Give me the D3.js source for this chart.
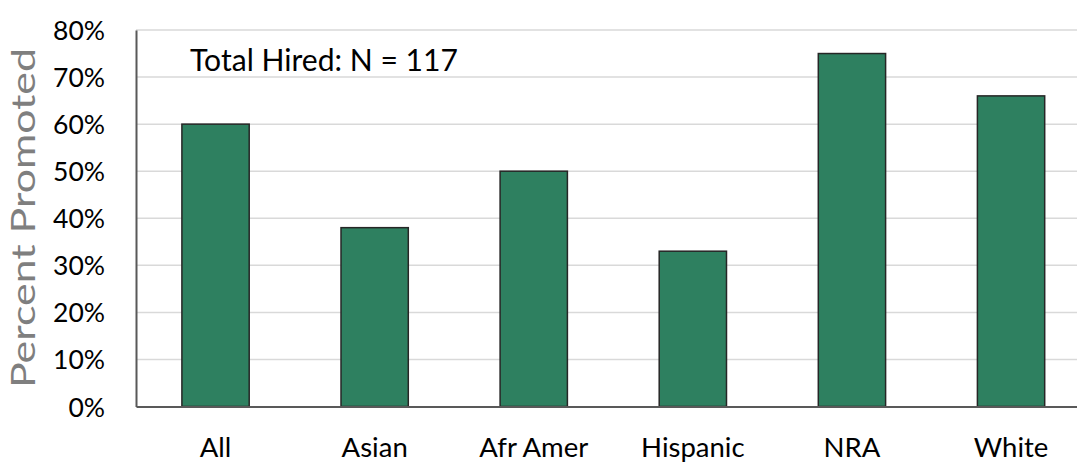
<!DOCTYPE html>
<html><head><meta charset="utf-8">
<script src="https://cdn.jsdelivr.net/npm/d3@7"></script>
<style>html,body{margin:0;padding:0;background:#fff;overflow:hidden}</style>
</head><body>
<svg id="chart" width="1077" height="462"></svg>
<script>
const categories = ["All", "Asian", "Afr Amer", "Hispanic", "NRA", "White"];
const values = [0.60, 0.38, 0.50, 0.33, 0.75, 0.66];
const yTicks = [0, 0.1, 0.2, 0.3, 0.4, 0.5, 0.6, 0.7, 0.8];
const yTickLabels = ["0%", "10%", "20%", "30%", "40%", "50%", "60%", "70%", "80%"];
const annotation = "Total Hired: N = 117";
const yTitle = "Percent Promoted";

const svg = d3.select("#chart");
const FONT = "Lato, 'Open Sans', sans-serif";
const x = d3.scaleBand().domain(categories).range([136, 1090.6]).paddingInner(0.577).paddingOuter(0.2885);
const y = d3.scaleLinear().domain([0, 0.8]).range([406.5, 30]);

// gridlines
svg.append("g").selectAll("line").data(yTicks.filter(d => d > 0)).join("line")
  .attr("x1", 136).attr("x2", 1077)
  .attr("y1", d => y(d)).attr("y2", d => y(d))
  .attr("stroke", "#d9d9d9").attr("stroke-width", 1.5);

// bars
svg.append("g").selectAll("rect").data(values).join("rect")
  .attr("x", (d, i) => x(categories[i]))
  .attr("y", d => y(d))
  .attr("width", x.bandwidth())
  .attr("height", d => y(0) - y(d))
  .attr("fill", "#2e8060")
  .attr("stroke", "#262626").attr("stroke-width", 1.5);

// axes
const yAxis = d3.axisLeft(y).tickValues(yTicks).tickFormat((d, i) => yTickLabels[i]).tickSize(0).tickPadding(31);
const gy = svg.append("g").attr("transform", "translate(136,0)").call(yAxis);
gy.select(".domain").attr("stroke", "#595959").attr("stroke-width", 2);
gy.selectAll("text").attr("font-family", FONT).attr("font-size", 26.5).attr("fill", "#000").attr("dy", "0.36em");

const xAxis = d3.axisBottom(x).tickSize(0).tickPadding(31);
const gx = svg.append("g").attr("transform", "translate(0,406.5)").call(xAxis);
gx.select(".domain").attr("stroke", "#595959").attr("stroke-width", 2);
gx.selectAll("text").attr("font-family", FONT).attr("font-size", 27.5).attr("fill", "#000");

// annotation
svg.append("text").attr("x", 190).attr("y", 71)
  .attr("font-family", FONT).attr("font-size", 30).attr("fill", "#000")
  .attr("textLength", 268).attr("lengthAdjust", "spacingAndGlyphs")
  .text(annotation);

// y title
svg.append("text").attr("transform", "translate(35,218) rotate(-90)")
  .attr("text-anchor", "middle")
  .attr("font-family", FONT).attr("font-size", 33).attr("fill", "#7f7f7f")
  .attr("textLength", 340).attr("lengthAdjust", "spacingAndGlyphs")
  .text(yTitle);
</script>
</body></html>
